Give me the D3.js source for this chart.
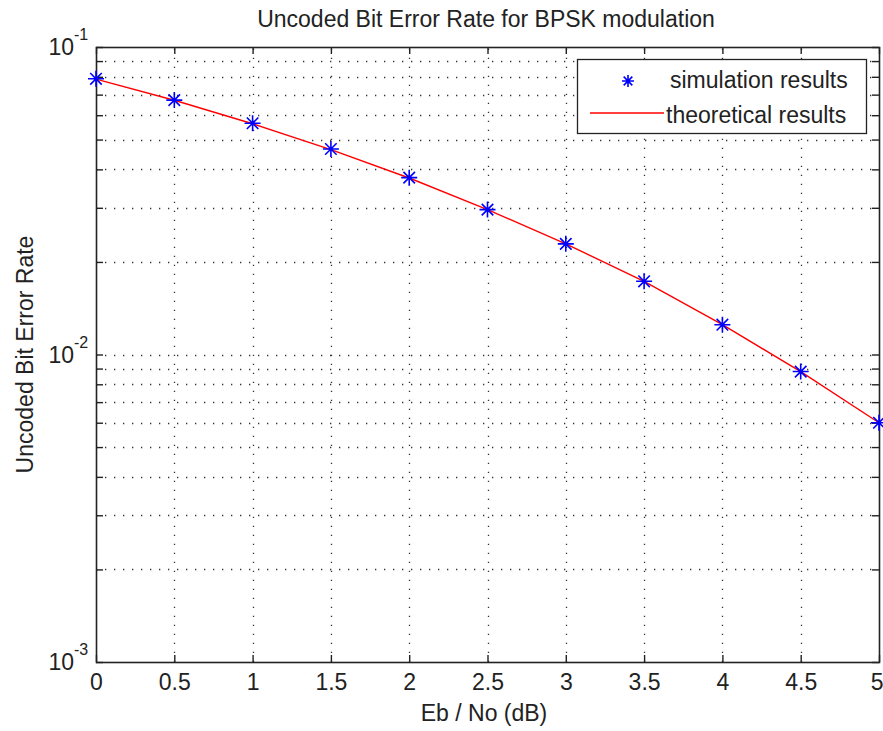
<!DOCTYPE html>
<html>
<head>
<meta charset="utf-8">
<script src="https://cdn.jsdelivr.net/npm/d3@7"></script>
<style>
  body { margin: 0; background: #fff; }
  text { font-family: "Liberation Sans", Arial, sans-serif; fill: #222; }
</style>
</head>
<body>
<svg id="chart" width="883" height="731"></svg>
<script>
// Eb/No points (dB)
const ebno = [0, 0.5, 1, 1.5, 2, 2.5, 3, 3.5, 4, 4.5, 5];
// simulated BER
const simBer = [0.0788, 0.0672, 0.0565, 0.0466, 0.0376, 0.0296, 0.0229, 0.0173, 0.0125, 0.0088, 0.0060];
// theoretical BER
const theoryBer = [0.0786, 0.0671, 0.0563, 0.0464, 0.0375, 0.0296, 0.0229, 0.0173, 0.0125, 0.0088, 0.0060];
const xTicks = [0, 0.5, 1, 1.5, 2, 2.5, 3, 3.5, 4, 4.5, 5];
const yDecades = [-3, -2, -1];

const svg = d3.select('#chart');
const margin = { top: 47, right: 4, bottom: 69, left: 96 };
const width = 883, height = 731;
const x0 = margin.left, x1 = width - margin.right;
const y0 = margin.top, y1 = height - margin.bottom;

const xScale = d3.scaleLinear().domain([0, 5]).range([x0, x1]);
const yScale = d3.scaleLog().domain([1e-3, 1e-1]).range([y1, y0]);

// all log ticks (major + minor)
const yTicks = [];
for (let e = -3; e < -1; e++) {
  for (let m = 1; m < 10; m++) yTicks.push(m * Math.pow(10, e));
}
yTicks.push(0.1);

// grid
const grid = svg.append('g').attr('stroke', '#333').attr('stroke-width', 1.3)
  .attr('stroke-dasharray', '1.3,7.7');
grid.selectAll('.gx').data(xTicks.slice(1, -1)).enter().append('line')
  .attr('x1', d => Math.round(xScale(d)) + 0.5).attr('x2', d => Math.round(xScale(d)) + 0.5)
  .attr('y1', y1).attr('y2', y0);
grid.selectAll('.gy').data(yTicks.filter(d => d > 1.01e-3 && d < 0.099)).enter().append('line')
  .attr('y1', d => Math.round(yScale(d)) + 0.5).attr('y2', d => Math.round(yScale(d)) + 0.5)
  .attr('x1', x0).attr('x2', x1);

// axes with inward ticks
const tickLen = 7;
svg.append('g').attr('transform', `translate(0,${y1})`)
  .call(d3.axisBottom(xScale).tickValues(xTicks).tickSizeInner(-tickLen).tickSizeOuter(0)
    .tickPadding(12).tickFormat(d3.format('')))
  .call(g => g.select('.domain').remove())
  .call(g => g.selectAll('line').attr('stroke', '#222').attr('stroke-width', 1.4))
  .call(g => g.selectAll('text').style('font-size', '23px').attr('fill', '#222'))
  // last label sits at the right edge, keep it inside the page
  .call(g => g.selectAll('text').filter(d => d === 5).attr('text-anchor', 'end').attr('x', 4));
svg.append('g').attr('transform', `translate(0,${y0})`)
  .call(d3.axisTop(xScale).tickValues(xTicks).tickSizeInner(-tickLen).tickSizeOuter(0).tickFormat(''))
  .call(g => g.select('.domain').remove())
  .call(g => g.selectAll('line').attr('stroke', '#222').attr('stroke-width', 1.4));
svg.append('g').attr('transform', `translate(${x0},0)`)
  .call(d3.axisLeft(yScale).tickValues(yTicks).tickSizeInner(-tickLen).tickSizeOuter(0).tickFormat(''))
  .call(g => g.select('.domain').remove())
  .call(g => g.selectAll('line').attr('stroke', '#222').attr('stroke-width', 1.4));
svg.append('g').attr('transform', `translate(${x1},0)`)
  .call(d3.axisRight(yScale).tickValues(yTicks).tickSizeInner(-tickLen).tickSizeOuter(0).tickFormat(''))
  .call(g => g.select('.domain').remove())
  .call(g => g.selectAll('line').attr('stroke', '#222').attr('stroke-width', 1.4));

// y labels 10^e
const yl = svg.append('g');
yDecades.forEach(e => {
  const yy = yScale(Math.pow(10, e));
  yl.append('text')
    .attr('x', 74).attr('y', yy + 8)
    .attr('text-anchor', 'end').style('font-size', '23px').text('10');
  yl.append('text')
    .attr('x', 74).attr('y', yy - 7)
    .style('font-size', '16px').text('-' + (-e));
});

// frame
svg.append('rect').attr('x', x0 + 0.5).attr('y', y0 + 0.5)
  .attr('width', x1 - x0).attr('height', y1 - y0)
  .attr('fill', 'none').attr('stroke', '#222').attr('stroke-width', 1.6);

// theoretical line
const line = d3.line().x((d, i) => xScale(ebno[i])).y(d => yScale(d));
svg.append('path').datum(theoryBer).attr('d', line)
  .attr('fill', 'none').attr('stroke', '#ff0000').attr('stroke-width', 1.4);

// asterisk marker
function star(g, cx, cy, r) {
  const a = r * 0.72;
  g.append('path')
    .attr('d', `M${cx - r},${cy}H${cx + r}M${cx},${cy - r}V${cy + r}` +
      `M${cx - a},${cy - a}L${cx + a},${cy + a}M${cx - a},${cy + a}L${cx + a},${cy - a}`)
    .attr('stroke', '#0000ff').attr('stroke-width', 1.6).attr('fill', 'none');
}
const marks = svg.append('g');
simBer.forEach((d, i) => star(marks, xScale(ebno[i]), yScale(d), 8));

// legend
const lg = svg.append('g');
lg.append('rect').attr('x', 577.5).attr('y', 59.5).attr('width', 289).attr('height', 74)
  .attr('fill', '#fff').attr('stroke', '#222').attr('stroke-width', 1.3);
star(lg, 628, 81, 6);
lg.append('text').attr('x', 670).attr('y', 88).style('font-size', '23px').text('simulation results');
lg.append('line').attr('x1', 590).attr('x2', 664).attr('y1', 113).attr('y2', 113)
  .attr('stroke', '#ff0000').attr('stroke-width', 1.4);
lg.append('text').attr('x', 666).attr('y', 123).style('font-size', '23px').text('theoretical results');

// titles
svg.append('text').attr('x', 486).attr('y', 27).attr('text-anchor', 'middle')
  .style('font-size', '23px').text('Uncoded Bit Error Rate for BPSK modulation');
svg.append('text').attr('x', 484).attr('y', 721).attr('text-anchor', 'middle')
  .style('font-size', '23px').text('Eb / No (dB)');
svg.append('text').attr('transform', `translate(33,${(y0 + y1) / 2}) rotate(-90)`)
  .attr('text-anchor', 'middle').style('font-size', '23px').text('Uncoded Bit Error Rate');
</script>
</body>
</html>
